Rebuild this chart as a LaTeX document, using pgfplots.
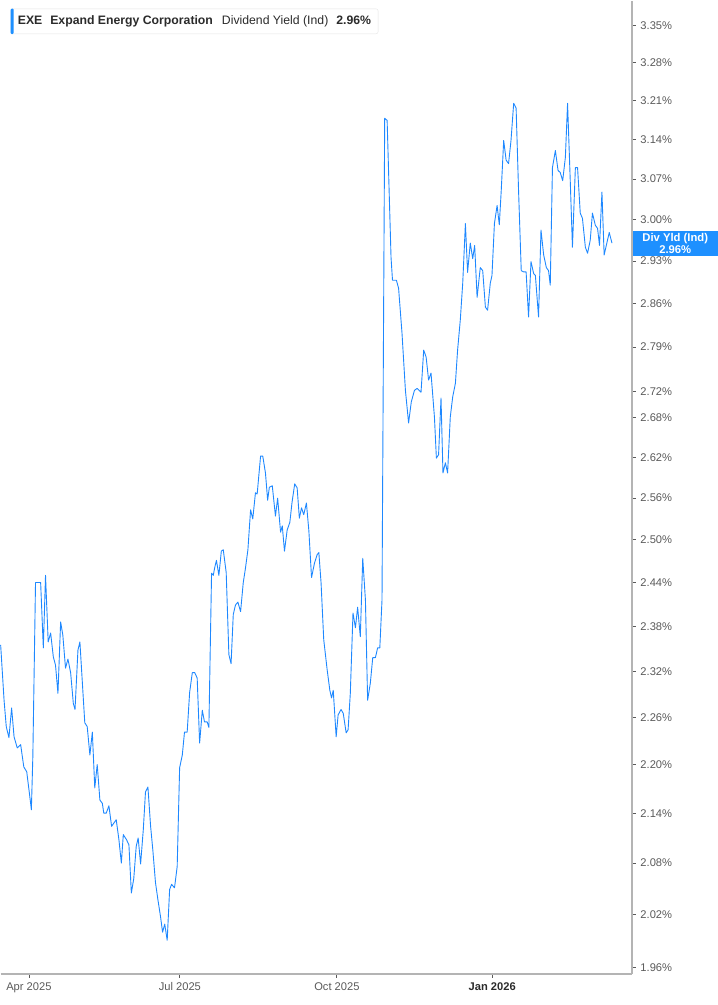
\documentclass[border=0pt]{standalone}
\usepackage{pgfplots}
\pgfplotsset{compat=1.18}
\usepackage{fontspec}
\setmainfont{Liberation Sans}
\definecolor{yldblue}{HTML}{1E88FF}
\definecolor{tagblue}{HTML}{1E90FF}
\definecolor{axgray}{HTML}{B4B4B4}
\definecolor{lblgray}{HTML}{5A5A5A}
\definecolor{txtdark}{HTML}{2B2B2B}
\begin{document}
\begin{tikzpicture}
  \begin{axis}[
    name=main,
    at={(0bp,31bp)}, anchor=south west,
    width=631.7bp, height=974bp,
    scale only axis,
    ymode=log,
    xmin=0, xmax=258.9,
    ymin=1.9531, ymax=3.398,
    axis x line*=bottom,
    axis y line*=right,
    axis line style={-, draw=axgray, line width=1.3bp},
    tick align=outside,
    major tick length=4bp,
    tick style={draw=lblgray, line width=0.8bp},
    xtick={11.6,73.5,137.9,201.6},
    xticklabels={Apr 2025, Jul 2025, Oct 2025, {\color{txtdark}\bfseries Jan 2026}},
    xticklabel style={font=\fontsize{11.2}{13}\selectfont, text=lblgray, yshift=-1bp},
    ytick={3.35,3.28,3.21,3.14,3.07,3.00,2.93,2.86,2.79,2.72,2.68,2.62,2.56,2.50,2.44,2.38,2.32,2.26,2.20,2.14,2.08,2.02,1.96},
    yticklabels={3.35\%,3.28\%,3.21\%,3.14\%,3.07\%,3.00\%,2.93\%,2.86\%,2.79\%,2.72\%,2.68\%,2.62\%,2.56\%,2.50\%,2.44\%,2.38\%,2.32\%,2.26\%,2.20\%,2.14\%,2.08\%,2.02\%,1.96\%},
    yticklabel style={font=\fontsize{11.2}{13}\selectfont, text=lblgray, anchor=west, xshift=1bp},
    minor tick num=0,
    clip=false,
  ]
    % dividend yield (%), x = trading day index
    \addplot[color=yldblue, line width=0.9bp, line join=round] coordinates {
      (0.0,2.355) (1.4,2.282) (2.3,2.248) (3.4,2.234) (4.5,2.272) (5.5,2.235)
      (6.8,2.221) (8.2,2.225) (9.5,2.197) (10.7,2.191) (12.3,2.152) (12.6,2.144)
      (13.2,2.210) (14.3,2.440) (16.4,2.440) (17.5,2.351) (18.4,2.450) (19.5,2.359)
      (20.5,2.371) (21.6,2.339) (22.5,2.328) (23.5,2.291) (24.6,2.386) (25.5,2.368)
      (26.6,2.324) (27.6,2.336) (28.7,2.318) (29.8,2.278) (30.5,2.270) (31.7,2.348)
      (32.5,2.359) (34.5,2.253) (35.5,2.248) (36.6,2.212) (37.6,2.241) (38.6,2.171)
      (39.6,2.200) (40.7,2.156) (41.7,2.152) (42.3,2.140) (43.3,2.140) (44.4,2.149)
      (45.5,2.124) (47.4,2.132) (48.5,2.108) (49.5,2.080) (50.3,2.114) (51.6,2.108)
      (52.6,2.102) (53.6,2.045) (54.6,2.062) (55.6,2.100) (56.4,2.110) (57.4,2.079)
      (58.5,2.120) (59.4,2.166) (60.4,2.172) (61.5,2.124) (62.4,2.096) (63.5,2.057)
      (64.5,2.037) (65.6,2.017) (66.4,2.000) (67.3,2.009) (68.3,1.991) (69.3,2.049)
      (70.1,2.055) (71.3,2.051) (72.4,2.076) (73.4,2.196) (74.5,2.212) (75.4,2.241)
      (76.5,2.241) (77.5,2.292) (78.6,2.318) (79.6,2.318) (80.6,2.311) (81.6,2.227)
      (82.7,2.269) (83.6,2.254) (84.7,2.254) (85.4,2.247) (86.5,2.453) (87.2,2.450)
      (87.8,2.461) (88.5,2.471) (89.5,2.450) (90.5,2.484) (91.3,2.486) (92.5,2.454)
      (93.6,2.342) (94.5,2.330) (95.4,2.396) (96.3,2.409) (97.3,2.413) (98.4,2.400)
      (99.5,2.440) (100.4,2.460) (101.4,2.486) (102.5,2.543) (103.4,2.530) (104.5,2.568)
      (105.2,2.566) (106.6,2.622) (107.5,2.622) (108.6,2.597) (109.5,2.557) (110.2,2.576)
      (111.4,2.578) (112.7,2.534) (113.6,2.560) (114.8,2.511) (115.5,2.520) (116.4,2.484)
      (117.5,2.514) (118.6,2.525) (119.5,2.554) (120.6,2.581) (121.6,2.575) (122.5,2.531)
      (123.4,2.546) (124.3,2.536) (125.4,2.553) (126.4,2.513) (127.5,2.447) (128.7,2.467)
      (129.8,2.479) (130.5,2.482) (131.4,2.440) (132.5,2.362) (133.9,2.322) (135.0,2.295)
      (135.7,2.285) (136.4,2.295) (137.6,2.235) (138.4,2.263) (139.6,2.270) (140.5,2.265)
      (141.7,2.240) (142.5,2.244) (143.4,2.291) (144.5,2.398) (145.5,2.378) (146.4,2.406)
      (147.5,2.366) (148.5,2.474) (149.6,2.416) (150.5,2.282) (151.6,2.304) (152.6,2.338)
      (153.7,2.338) (154.6,2.351) (155.5,2.351) (156.4,2.416) (157.5,3.178) (158.5,3.174)
      (160.1,2.936) (160.7,2.898) (162.3,2.898) (163.2,2.885) (164.6,2.812) (166.0,2.722)
      (167.3,2.672) (168.4,2.704) (169.7,2.722) (170.8,2.725) (172.4,2.719) (173.5,2.785)
      (174.5,2.774) (175.5,2.738) (176.5,2.749) (177.9,2.681) (178.7,2.619) (179.6,2.624)
      (180.6,2.710) (181.4,2.597) (182.4,2.612) (183.3,2.597) (184.4,2.681) (185.4,2.712)
      (186.5,2.733) (187.4,2.785) (188.5,2.833) (189.5,2.893) (190.6,2.993) (191.5,2.911)
      (192.6,2.960) (193.6,2.934) (194.4,2.956) (195.4,2.870) (196.7,2.919) (197.7,2.914)
      (198.8,2.854) (199.7,2.849) (200.8,2.893) (201.5,2.906) (202.5,2.993) (203.6,3.024)
      (204.5,2.991) (205.3,3.050) (206.3,3.138) (207.3,3.103) (208.3,3.097) (209.3,3.138)
      (210.4,3.205) (211.4,3.196) (212.4,3.050) (213.5,2.914) (214.5,2.912) (215.5,2.912)
      (216.5,2.838) (217.5,2.929) (218.6,2.909) (219.3,2.906) (220.6,2.838) (221.6,2.982)
      (222.7,2.940) (223.8,2.919) (224.7,2.914) (225.4,2.890) (226.3,3.090) (227.5,3.120)
      (228.6,3.085) (229.5,3.081) (230.5,3.067) (231.6,3.108) (232.5,3.205) (233.6,3.067)
      (234.5,2.953) (235.7,3.090) (236.6,3.090) (237.7,3.011) (238.6,3.002) (239.8,2.953)
      (240.7,2.943) (241.8,2.965) (242.7,3.011) (243.9,2.990) (244.8,2.985) (245.6,2.956)
      (246.6,3.047) (247.5,2.940) (248.6,2.960) (249.6,2.978) (250.7,2.960)
    };
    % current value tag
    \node[anchor=west, fill=tagblue, text=white, align=center,
          font=\bfseries\fontsize{11.3}{12}\selectfont,
          minimum width=85bp, minimum height=25bp, inner sep=0.5bp, xshift=0.6bp]
      at (axis cs:258.9,2.96) {Div Yld (Ind)\\2.96\%};
  \end{axis}
  % header box
  \node[anchor=north west, draw=gray!20, fill=white, rounded corners=2bp,
        minimum height=25bp, inner xsep=7bp, inner ysep=0bp, text=txtdark,
        font=\fontsize{12.3}{14}\selectfont] (hdr) at (10bp,997bp)
    {\bfseries EXE\hspace{8bp}Expand Energy Corporation\hspace{9bp}\mdseries Dividend Yield (Ind)\hspace{8bp}\bfseries 2.96\%};
  \fill[tagblue, rounded corners=1bp] (hdr.north west) rectangle ([xshift=3bp]hdr.south west);
  \useasboundingbox (0,0) rectangle (717bp,1005bp);
\end{tikzpicture}
\end{document}
